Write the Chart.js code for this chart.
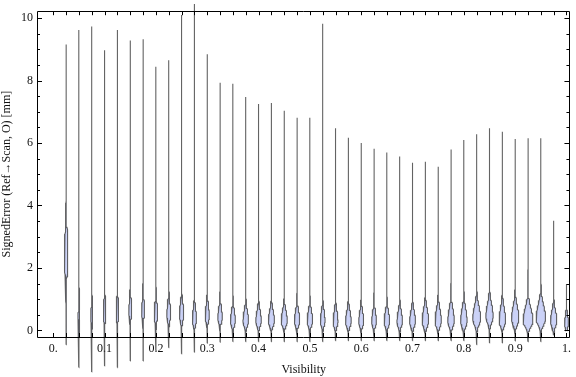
<!DOCTYPE html>
<html>
<head>
<meta charset="utf-8">
<script src="https://cdn.jsdelivr.net/npm/chart.js@4.4.1/dist/chart.umd.min.js"></script>
<style>
  html, body { margin: 0; padding: 0; background: #fff; }
  #wrap { width: 576px; height: 377px; position: relative; }
</style>
</head>
<body>
<div id="wrap"><canvas id="c" width="576" height="377"></canvas></div>
<script>
// ---------------- data ----------------
const visibility = [0.025,0.05,0.075,0.1,0.125,0.15,0.175,0.2,0.225,0.25,
                    0.275,0.3,0.325,0.35,0.375,0.4,0.425,0.45,0.475,0.5,
                    0.525,0.55,0.575,0.6,0.625,0.65,0.675,0.7,0.725,0.75,
                    0.775,0.8,0.825,0.85,0.875,0.9,0.925,0.95,0.975,1.0];
const maxError = [9.15,9.62,9.73,8.97,9.62,9.28,9.32,8.44,8.65,10.1,
                  10.45,8.84,7.93,7.90,7.47,7.25,7.28,7.03,6.81,6.81,
                  9.82,6.47,6.17,6.00,5.82,5.70,5.57,5.37,5.40,5.24,
                  5.79,6.10,6.28,6.47,6.36,6.13,6.15,6.15,3.51,1.48];
const minError = [-0.46,-1.19,-1.33,-1.14,-1.19,-0.98,-0.98,-0.64,-0.55,-0.75,
                  -0.70,-0.41,-0.38,-0.36,-0.36,-0.36,-0.36,-0.36,-0.36,-0.36,
                  -0.36,-0.33,-0.33,-0.33,-0.33,-0.33,-0.33,-0.33,-0.33,-0.33,
                  -0.33,-0.33,-0.46,-0.40,-0.40,-0.34,-0.36,-0.36,-0.15,-0.02];
const modeError = [2.45,0.45,0.45,0.55,0.55,0.6,0.6,0.5,0.5,0.5,
                   0.35,0.45,0.4,0.3,0.3,0.3,0.3,0.3,0.3,0.3,
                   0.3,0.28,0.28,0.28,0.28,0.28,0.28,0.28,0.3,0.3,
                   0.3,0.3,0.38,0.45,0.32,0.38,0.3,0.38,0.3,0.22];
const peakDensity = [1.8,1.0,1.0,1.3,1.3,1.5,1.5,1.8,2.0,2.2,
                     2.1,2.1,2.3,2.5,2.8,2.8,3.1,3.1,2.7,2.8,
                     2.4,2.5,2.9,2.5,2.4,2.8,2.8,3.0,3.3,3.2,
                     3.3,3.3,4.0,3.7,3.3,3.7,5.0,4.8,3.2,2.0];
const lowerSpread = [0.65,0.25,0.25,0.22,0.22,0.22,0.22,0.2,0.2,0.2,
                     0.18,0.18,0.16,0.16,0.16,0.16,0.16,0.16,0.16,0.16,
                     0.16,0.16,0.16,0.16,0.16,0.16,0.16,0.16,0.18,0.18,
                     0.18,0.18,0.2,0.2,0.18,0.2,0.18,0.2,0.18,0.14];
const upperSpread = [0.7,0.4,0.4,0.38,0.38,0.38,0.38,0.36,0.36,0.36,
                     0.34,0.34,0.32,0.32,0.32,0.32,0.32,0.32,0.32,0.32,
                     0.32,0.32,0.32,0.32,0.32,0.32,0.32,0.32,0.36,0.36,
                     0.38,0.38,0.38,0.38,0.38,0.38,0.4,0.42,0.32,0.26];
const xTickValues = [0,0.1,0.2,0.3,0.4,0.5,0.6,0.7,0.8,0.9,1.0];
const xTickLabels = ["0.","0.1","0.2","0.3","0.4","0.5","0.6","0.7","0.8","0.9","1."];
const yTickValues = [0,2,4,6,8,10];
const yTickLabels = ["0","2","4","6","8","10"];
const yMinorStep = 0.5;

// ---------------- rendering helpers ----------------
const densityToX = 1 / 517.6;   // density unit -> x-axis units
function violinOutline(i) {
  const c = visibility[i], lo = minError[i], hi = maxError[i], m = modeError[i];
  const W = peakDensity[i] * densityToX, sL = lowerSpread[i], sU = upperSpread[i];
  const hw = y => W * Math.exp(-0.5 * Math.pow((y - m) / (y < m ? sL : sU), 2));
  const a = Math.max(lo, m - 4 * sL), b = Math.min(hi, m + 4.5 * sU);
  const ys = [lo];
  const n = 80;
  for (let k = 0; k <= n; k++) ys.push(a + (b - a) * k / n);
  ys.push(hi);
  const right = ys.map(y => ({x: c + hw(y), y: y}));
  const left = ys.slice().reverse().map(y => ({x: c - hw(y), y: y}));
  return right.concat(left);
}

const datasets = visibility.map((v, i) => ({
  data: violinOutline(i),
  showLine: true,
  fill: 'shape',
  backgroundColor: '#cbd2f7',
  borderColor: 'rgba(55,55,55,0.78)',
  borderWidth: 1.1,
  pointRadius: 0,
  pointHoverRadius: 0,
  tension: 0,
  clip: false
}));

const SERIF = '"Liberation Serif", "Times New Roman", serif';

const framePlugin = {
  id: 'frameTicks',
  afterDatasetsDraw(chart) {
    const {ctx, chartArea: a, scales: {x, y}} = chart;
    ctx.save();
    ctx.strokeStyle = '#000';
    ctx.lineWidth = 1;
    ctx.beginPath();
    ctx.rect(Math.round(a.left) + 0.5, Math.round(a.top) + 0.5,
             Math.round(a.right - a.left) - 1, Math.round(a.bottom - a.top));
    ctx.stroke();
    ctx.beginPath();
    const xt = [0].concat(visibility);
    xt.forEach(v => {
      const px = Math.round(x.getPixelForValue(v)) + 0.5;
      ctx.moveTo(px, a.top); ctx.lineTo(px, a.top + 4);
      ctx.moveTo(px, a.bottom); ctx.lineTo(px, a.bottom - 4);
    });
    for (let v = 0; v <= 10.0001; v += yMinorStep) {
      const major = yTickValues.some(t => Math.abs(t - v) < 1e-6);
      const len = major ? 5 : 3;
      const py = Math.round(y.getPixelForValue(v)) + 0.5;
      ctx.moveTo(a.left, py); ctx.lineTo(a.left + len, py);
      ctx.moveTo(a.right - 1, py); ctx.lineTo(a.right - 1 - len, py);
    }
    ctx.stroke();
    ctx.restore();
  }
};

new Chart(document.getElementById('c'), {
  type: 'scatter',
  data: { datasets },
  options: {
    responsive: false,
    animation: false,
    events: [],
    layout: { padding: { top: 4, right: 1, left: 0, bottom: 0 } },
    plugins: { legend: { display: false }, tooltip: { enabled: false } },
    scales: {
      x: {
        type: 'linear',
        min: -0.0317, max: 1.0077,
        afterBuildTicks: s => { s.ticks = xTickValues.map(v => ({value: v})); },
        afterFit: s => { s.height = 40; },
        grid: { display: false, drawTicks: false },
        border: { display: false },
        ticks: {
          autoSkip: false, maxRotation: 0, minRotation: 0, padding: 5,
          color: '#111', font: { family: SERIF, size: 12 },
          callback: (val, idx) => xTickLabels[idx]
        },
        title: {
          display: true, text: 'Visibility', color: '#111',
          font: { family: SERIF, size: 12 },
          padding: { top: 0, bottom: 0 }
        }
      },
      y: {
        type: 'linear',
        min: -0.21, max: 10.22,
        afterBuildTicks: s => { s.ticks = yTickValues.map(v => ({value: v})); },
        afterFit: s => { s.width = 37; },
        grid: { display: false, drawTicks: false },
        border: { display: false },
        ticks: {
          autoSkip: false, padding: 4,
          color: '#111', font: { family: SERIF, size: 12 },
          callback: (val, idx) => yTickLabels[idx]
        },
        title: {
          display: true, text: 'SignedError (Ref\u2192Scan, O) [mm]', color: '#111',
          font: { family: SERIF, size: 12 },
          padding: { top: 0, bottom: 0 }
        }
      }
    }
  },
  plugins: [framePlugin]
});
</script>
</body>
</html>
